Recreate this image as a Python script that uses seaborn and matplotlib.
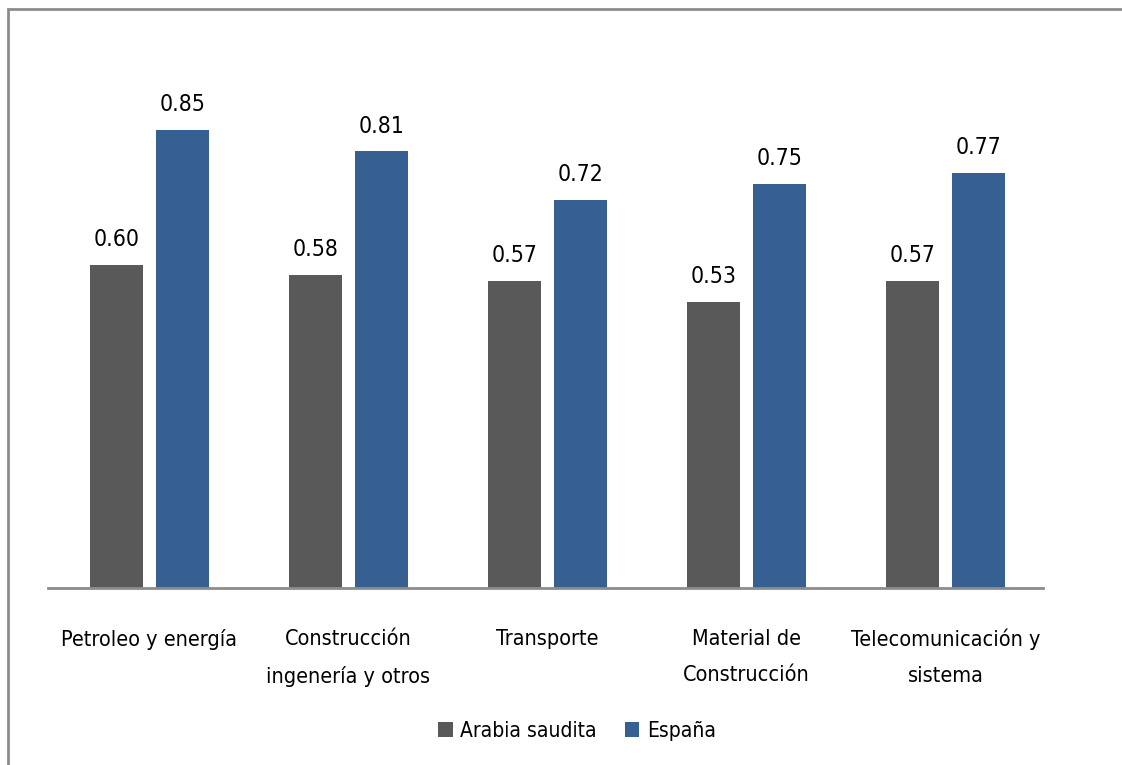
import matplotlib
matplotlib.use("Agg")
import matplotlib.pyplot as plt
from matplotlib.patches import Rectangle, Patch
import seaborn as sns
import pandas as pd

categories = [
    "Petroleo y energía",
    "Construcción\ningenería y otros",
    "Transporte",
    "Material de\nConstrucción",
    "Telecomunicación y\nsistema",
]
series_names = ["Arabia saudita", "España"]
arabia = [0.60, 0.58, 0.57, 0.53, 0.57]
espana = [0.85, 0.81, 0.72, 0.75, 0.77]
colors = ["#595959", "#376092"]

sns.set_theme(style="white")
plt.rcParams["font.family"] = ["DejaVu Sans"]
plt.rcParams["font.stretch"] = "condensed"
plt.rcParams["text.color"] = "#000000"

df = pd.DataFrame({
    "categoria": categories * 2,
    "serie": [series_names[0]] * len(arabia) + [series_names[1]] * len(espana),
    "valor": arabia + espana,
})

W, H = 1122, 765
fig = plt.figure(figsize=(W / 100, H / 100), dpi=100)
ax = fig.add_axes([48 / W, (H - 588) / H, (1043 - 48) / W, (588 - 49) / H])

sns.barplot(data=df, x="categoria", y="valor", hue="serie", order=categories,
            hue_order=series_names, palette=colors, width=0.663, gap=0.197,
            saturation=1, errorbar=None, ax=ax, legend=False,
            edgecolor="none", linewidth=0)

ax.set_ylim(0, 1.0)
ax.set_xlim(-0.51, len(categories) - 0.51)
ax.set_xlabel("")
ax.set_ylabel("")
ax.set_yticks([])
for side in ["top", "left", "right"]:
    ax.spines[side].set_visible(False)
ax.spines["bottom"].set_color("#8c8c8c")
ax.spines["bottom"].set_linewidth(2)
ax.tick_params(axis="x", length=0, pad=29.5, labelsize=15.5, labelcolor="#000000")
for t in ax.get_xticklabels():
    t.set_linespacing(2.0)

for cont in ax.containers:
    ax.bar_label(cont, fmt="%.2f", padding=10, fontsize=16.5, color="#000000")

handles = [Patch(facecolor=c, edgecolor="none") for c in colors]
fig.legend(handles, series_names, loc="center", bbox_to_anchor=(577 / W, 1 - 731 / H),
           ncol=2, frameon=False, fontsize=15, handlelength=0.7, handleheight=0.7,
           handletextpad=0.35, columnspacing=1.35, labelcolor="#000000")

fig.patches.append(Rectangle((8 / W, -0.1), 1.2, 1 - 9 / H + 0.1, transform=fig.transFigure,
                             fill=False, edgecolor="#8c8c8c", linewidth=2, zorder=-1))

fig.savefig("out.png", dpi=100, facecolor="white")
